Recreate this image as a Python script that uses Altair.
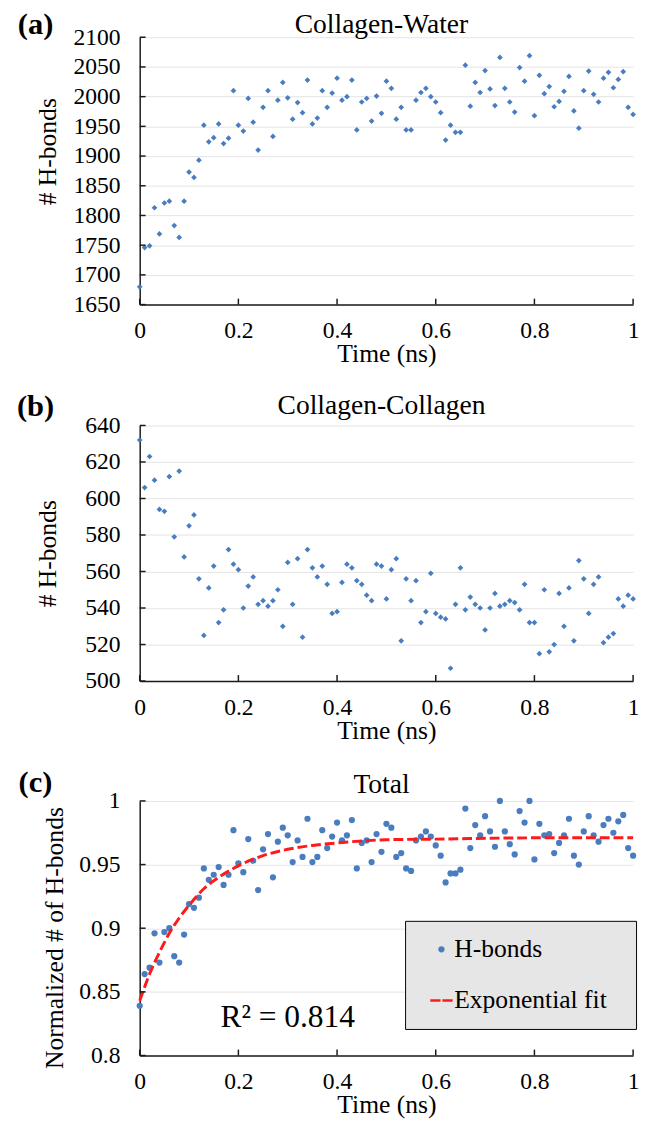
import altair as alt
import pandas as pd

# ---------------- data ----------------
time_ns = [round(i * 0.01, 2) for i in range(101)]

water_hbonds = [
    1680, 1746, 1749, 1813, 1769, 1821, 1824, 1783, 1763, 1824,
    1873, 1864, 1893, 1952, 1924, 1931, 1954, 1921, 1930, 2010,
    1952, 1942, 1997, 1957, 1910, 1982, 2010, 1933, 1994, 2024,
    1998, 1962, 1990, 1973, 2028, 1954, 1964, 2010, 1982, 2006,
    2031, 1994, 2000, 2028, 1944, 1991, 1997, 1959, 2001, 1972,
    2026, 2014, 1962, 1982, 1944, 1944, 1994, 2007, 2014, 2000,
    1991, 1973, 1927, 1952, 1940, 1940, 2053, 1984, 2024, 2007,
    2044, 2013, 1985, 2066, 2014, 1991, 1974, 2049, 2026, 2069,
    1968, 2036, 2005, 2017, 1983, 1992, 2009, 2034, 1976, 1947,
    2010, 2043, 2004, 1991, 2031, 2041, 2015, 2029, 2042, 1982,
    1970,
]

collagen_hbonds = [
    632, 606, 623, 610, 594, 593, 612, 579, 615, 568,
    585, 591, 556, 525, 551, 563, 532, 539, 572, 564,
    561, 540, 552, 557, 542, 544, 541, 544, 550, 530,
    565, 542, 567, 524, 572, 562, 557, 563, 553, 537,
    538, 554, 564, 562, 555, 553, 547, 544, 564, 563,
    545, 561, 567, 522, 556, 544, 555, 532, 538, 559,
    537, 535, 534, 507, 542, 562, 539, 546, 542, 540,
    528, 540, 548, 541, 542, 544, 543, 539, 553, 532,
    532, 515, 550, 516, 520, 548, 530, 551, 522, 566,
    556, 537, 553, 557, 521, 524, 526, 545, 541, 547,
    545,
]

total_norm = [
    0.839, 0.864, 0.869, 0.896, 0.873, 0.897, 0.900, 0.878, 0.873, 0.895,
    0.919, 0.916, 0.924, 0.947, 0.938, 0.942, 0.948, 0.934, 0.942, 0.977,
    0.951, 0.944, 0.970, 0.953, 0.930, 0.962, 0.974, 0.940, 0.968, 0.979,
    0.973, 0.952, 0.969, 0.956, 0.986, 0.952, 0.956, 0.977, 0.963, 0.972,
    0.983, 0.969, 0.973, 0.985, 0.947, 0.967, 0.969, 0.952, 0.974, 0.960,
    0.982, 0.979, 0.956, 0.959, 0.947, 0.945, 0.969, 0.972, 0.976, 0.972,
    0.965, 0.957, 0.936, 0.943, 0.943, 0.946, 0.994, 0.963, 0.981, 0.973,
    0.988, 0.976, 0.964, 1.000, 0.976, 0.966, 0.958, 0.992, 0.983, 1.000,
    0.954, 0.982, 0.973, 0.974, 0.959, 0.967, 0.973, 0.986, 0.957, 0.950,
    0.976, 0.988, 0.973, 0.968, 0.981, 0.986, 0.975, 0.984, 0.989, 0.963,
    0.957,
]

fit_time = [0, 0.02, 0.04, 0.06, 0.08, 0.10, 0.13, 0.16, 0.20, 0.25,
            0.30, 0.35, 0.40, 0.50, 0.60, 0.80, 1.00]
fit_value = [0.843, 0.864, 0.881, 0.896, 0.908, 0.918, 0.931, 0.940, 0.949, 0.957,
             0.962, 0.965, 0.967, 0.9695, 0.970, 0.971, 0.971]

x_ticks = [0, 0.2, 0.4, 0.6, 0.8, 1]
water_ticks = [1650, 1700, 1750, 1800, 1850, 1900, 1950, 2000, 2050, 2100]
collagen_ticks = [500, 520, 540, 560, 580, 600, 620, 640]
total_ticks = [0.8, 0.85, 0.9, 0.95, 1]

panel_titles = ["Collagen-Water", "Collagen-Collagen", "Total"]
panel_letters = ["(a)", "(b)", "(c)"]
y_titles = ["# H-bonds", "# H-bonds", "Normalized # of H-bonds"]
x_title = "Time (ns)"
legend_labels = ["H-bonds", "Exponential fit"]
r2_text = ["R² = 0.814"]
r2_t = [0.3]
r2_v = [0.830]

# ---------------- styling ----------------
FONT = "Liberation Serif"
BLUE = "#4a7dbf"
RED = "#ff1a1a"
AXIS = "#1a1a1a"
W = 502
PAD_TAIL = "\u00a0\u00a0\u200b"
DASH_PATH = "M-3.6,-0.42H-0.3V0.42H-3.6Z M0.3,-0.42H3.6V0.42H0.3Z"


def build_panel(values, yticks, ydomain, yfmt, ytitle, title, letter, height,
                ytitle_x, ytitle_y, title_dy, letter_dy, kind):
    df = pd.DataFrame({"t": time_ns, "v": values})
    xenc = alt.X("t:Q", scale=alt.Scale(domain=[0, 1], nice=False, zero=False),
                 axis=alt.Axis(values=x_ticks, tickCount=len(x_ticks), format="~g",
                               title=x_title, grid=False,
                               labelPadding=15, labelFlush=False, labelOverlap=False,
                               titleY=58, titleBaseline="alphabetic"))
    yenc = alt.Y("v:Q", scale=alt.Scale(domain=ydomain, nice=False, zero=False),
                 axis=alt.Axis(values=yticks, tickCount=len(yticks), format=yfmt,
                               title=ytitle, grid=True,
                               labelPadding=20, labelOverlap=False, labelFlush=False,
                               titleX=ytitle_x, titleY=ytitle_y, titleBaseline="middle"))
    layers = []
    if kind == "diamond":
        layers.append(
            alt.Chart(df).mark_point(filled=True, shape="diamond", size=34, opacity=1,
                                     color=BLUE).encode(x=xenc, y=yenc)
        )
    else:
        df = df.assign(series=legend_labels[0])
        leg = alt.Legend(orient="none", legendX=270, legendY=122, title=None,
                         fillColor="#e6e6e6", strokeColor="#000000", padding=16,
                         rowPadding=26, symbolOffset=8, labelOffset=0, labelLimit=300,
                         labelFont=FONT, labelFontSize=26, labelColor="#000000",
                         symbolSize=40, symbolStrokeWidth=0, symbolOpacity=1,
                         labelExpr="datum.label + '" + PAD_TAIL + "'")
        layers.append(
            alt.Chart(df).mark_point(filled=True, size=40, opacity=1).encode(
                x=xenc, y=yenc,
                color=alt.Color("series:N", scale=alt.Scale(domain=legend_labels,
                                                            range=[BLUE, RED]), legend=leg),
                shape=alt.Shape("series:N", scale=alt.Scale(domain=legend_labels,
                                                            range=["circle", DASH_PATH]),
                                legend=leg),
            )
        )
        fit_df = pd.DataFrame({"t": fit_time, "v": fit_value})
        layers.append(
            alt.Chart(fit_df).mark_line(color=RED, strokeWidth=3, strokeDash=[10, 4],
                                        interpolate="monotone").encode(x=xenc, y=yenc)
        )
        r2_df = pd.DataFrame({"t": r2_t, "v": r2_v, "s": r2_text})
        layers.append(
            alt.Chart(r2_df).mark_text(font=FONT, fontSize=32, color="#000000",
                                       align="center", baseline="middle").encode(
                x=xenc, y=yenc, text="s:N")
        )

    # inward tick marks on both axes
    layers.append(
        alt.Chart(pd.DataFrame({"t": x_ticks})).mark_rule(color=AXIS, strokeWidth=1.5).encode(
            x=xenc, y=alt.value(height), y2=alt.value(height - 6))
    )
    layers.append(
        alt.Chart(pd.DataFrame({"v": yticks})).mark_rule(color=AXIS, strokeWidth=1.5).encode(
            y=yenc, x=alt.value(0), x2=alt.value(6))
    )
    # panel title and letter
    layers.append(
        alt.Chart(pd.DataFrame({"s": [title]})).mark_text(
            font=FONT, fontSize=28, color="#000000", align="center",
            baseline="alphabetic").encode(text="s:N", x=alt.value(W / 2 - 5),
                                          y=alt.value(title_dy))
    )
    layers.append(
        alt.Chart(pd.DataFrame({"s": [letter]})).mark_text(
            font=FONT, fontSize=31, fontWeight="bold", color="#000000", align="center",
            baseline="middle").encode(text="s:N", x=alt.value(-106), y=alt.value(letter_dy))
    )
    return alt.layer(*layers).properties(width=W, height=height)


pa = build_panel(water_hbonds, water_ticks, [1650, 2100], "d", y_titles[0],
                 panel_titles[0], panel_letters[0], 272, -94, 116, -4, -12, "diamond")
pb = build_panel(collagen_hbonds, collagen_ticks, [500, 640], "d", y_titles[1],
                 panel_titles[1], panel_letters[1], 260, -94, 130, -12, -19, "diamond")
pc = build_panel(total_norm, total_ticks, [0.8, 1.0], "~g", y_titles[2],
                 panel_titles[2], panel_letters[2], 259, -87, 139, -8, -18, "circle")

chart = alt.vconcat(pa, pb, pc, spacing=25).properties(
    padding={"left": 9, "top": -8, "right": 0, "bottom": 0}
).resolve_legend(color="independent", shape="independent").configure_view(
    stroke=None
).configure_axis(
    labelFont=FONT, titleFont=FONT, labelFontSize=24, titleFontSize=26,
    titleFontWeight="normal", labelColor="#000000", titleColor="#000000",
    domainColor=AXIS, domainWidth=1.5, ticks=False, tickSize=0,
    gridColor="#e3e3e3", gridWidth=1,
)

chart.save("out.html", embed_options={"renderer": "svg", "actions": False})
